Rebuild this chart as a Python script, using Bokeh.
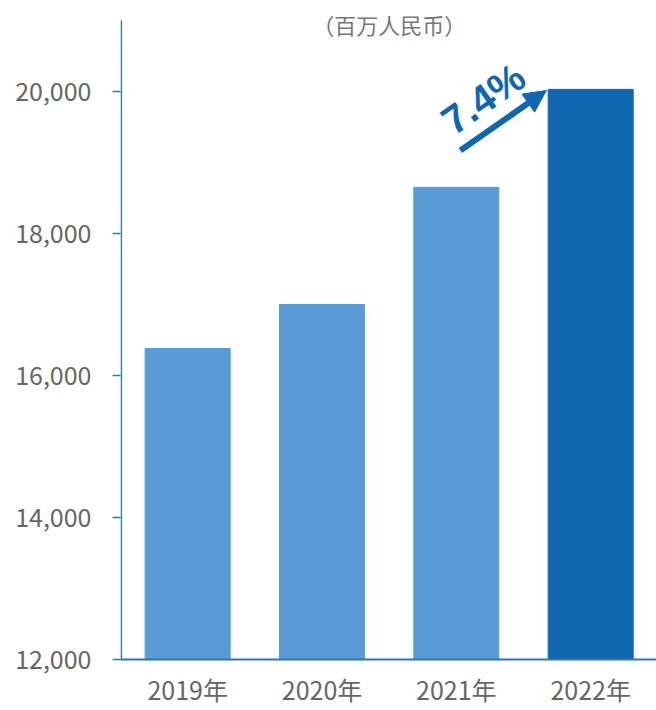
from bokeh.plotting import figure
from bokeh.models import FixedTicker, Range1d, Arrow, NormalHead, ColumnDataSource, Label, BoxAnnotation
from bokeh.core.properties import value
from bokeh.embed import file_html
from bokeh.resources import INLINE

years = ["2019年", "2020年", "2021年", "2022年"]
revenue = [16380, 17000, 18650, 20030]
bar_colors = ["#5B9BD5", "#5B9BD5", "#5B9BD5", "#1166B0"]
y_ticks = [12000, 14000, 16000, 18000, 20000]
unit_label = "（百万人民币）"
growth_label = "7.4%"

xpos = [i + 0.5 for i in range(len(years))]
src = ColumnDataSource(dict(x=xpos, top=revenue, color=bar_colors))

FONT = "Noto Sans CJK SC"
AXIS_BLUE = "#2E75B6"

p = figure(width=656, height=710, output_backend="svg", toolbar_location=None,
           x_range=Range1d(0, 3.99), y_range=Range1d(12000, 21169),
           min_border_left=120, min_border_right=0, min_border_top=8, min_border_bottom=51)
p.background_fill_color = "white"
p.border_fill_color = "white"
p.outline_line_color = None
p.grid.visible = False

p.vbar(x="x", top="top", bottom=12000, width=0.633, color="color", source=src)

# y axis (line drawn separately so it stops at 21,000)
p.yaxis.ticker = FixedTicker(ticks=y_ticks)
p.yaxis.formatter.use_scientific = False
p.yaxis.major_label_overrides = {t: f"{t:,}" for t in y_ticks}
p.yaxis.axis_line_color = None
p.yaxis.major_tick_line_color = AXIS_BLUE
p.yaxis.major_tick_line_width = 1.5
p.yaxis.major_tick_out = 8
p.yaxis.major_tick_in = 0
p.yaxis.minor_tick_line_color = None
p.yaxis.major_label_text_font = FONT
p.yaxis.major_label_text_font_size = "25px"
p.yaxis.major_label_text_color = "#666666"
p.yaxis.major_label_standoff = 21
p.add_layout(BoxAnnotation(left=0, right=1.6, left_units="data", right_units="screen",
                           bottom=12000, top=21000, fill_color=AXIS_BLUE, fill_alpha=1,
                           line_color=None))

# x axis
p.xaxis.ticker = FixedTicker(ticks=xpos)
p.xaxis.major_label_overrides = {x: y for x, y in zip(xpos, years)}
p.xaxis.axis_line_color = AXIS_BLUE
p.xaxis.axis_line_width = 2
p.xaxis.major_tick_line_color = None
p.xaxis.major_tick_out = 0
p.xaxis.major_tick_in = 0
p.xaxis.minor_tick_line_color = None
p.xaxis.major_label_text_font = FONT
p.xaxis.major_label_text_font_size = "25px"
p.xaxis.major_label_text_color = "#666666"
p.xaxis.major_label_standoff = 11

# unit label
p.add_layout(Label(x=2.0, y=20944, text=unit_label, text_align="center", text_baseline="middle",
                   text_font=FONT, text_font_size="22px", text_color="#777777"))

# growth arrow
p.add_layout(Arrow(x_start=2.53, y_start=19169, x_end=3.17, y_end=20014,
                   line_color="#1166B0", line_width=6,
                   end=NormalHead(size=22, fill_color="#1166B0", line_color="#1166B0")))
p.text(x=[2.70], y=[19900], text=[growth_label], angle=35, angle_units="deg",
       text_align="center", text_baseline="middle",
       text_font=value("Liberation Sans"), text_font_style="bold",
       text_font_size="40px", text_color="#1166B0")

open("out.html", "w").write(file_html(p, INLINE))
